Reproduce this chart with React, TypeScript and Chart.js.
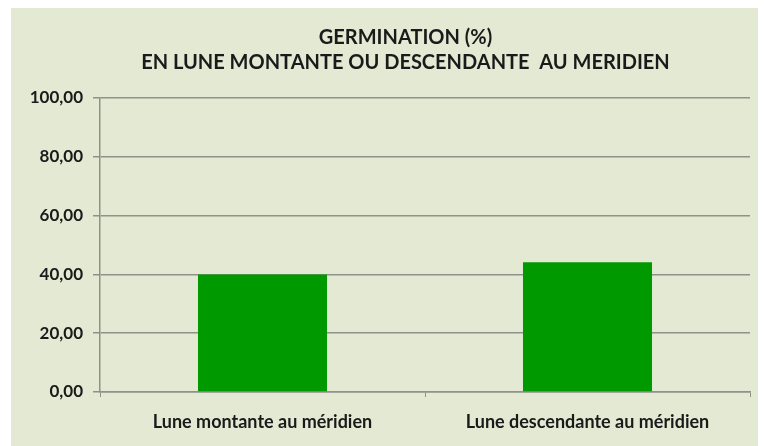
import React, { useEffect, useRef } from "react";
import { Chart, registerables } from "chart.js";

Chart.register(...registerables);

const categories = ["Lune montante au méridien", "Lune descendante au méridien"];
const germination = [40.0, 44.1];
const titleLines = ["GERMINATION (%)", "EN LUNE MONTANTE OU DESCENDANTE  AU MERIDIEN"];
const yMin = 0;
const yMax = 100;
const yStep = 20;

const FONT = "Lato, 'Open Sans', sans-serif";

const panelPlugin = {
  id: "panelBg",
  afterLayout(chart: any) {
    // the original title is centred slightly right of the full canvas width
    const t = chart.titleBlock;
    if (t) {
      t.left = 61;
    }
  },
  beforeDraw(chart: any) {
    const ctx = chart.ctx;
    ctx.save();
    ctx.fillStyle = "#ffffff";
    ctx.fillRect(0, 0, chart.width, chart.height);
    ctx.fillStyle = "#e4e9d3";
    ctx.fillRect(11, 8, 747, chart.height - 8);
    ctx.restore();
  },
};

export default function App() {
  const ref = useRef<HTMLCanvasElement | null>(null);
  useEffect(() => {
    document.body.style.margin = "0";
    const canvas = ref.current;
    if (!canvas) return;
    const chart = new Chart(canvas, {
      type: "bar",
      data: {
        labels: categories,
        datasets: [
          {
            label: "Germination (%)",
            data: germination,
            backgroundColor: "#009a00",
            borderWidth: 0,
            categoryPercentage: 1,
            barPercentage: 0.397,
          },
        ],
      },
      plugins: [panelPlugin],
      options: {
        animation: false,
        responsive: false,
        maintainAspectRatio: false,
        layout: { padding: { left: 11, right: 16, top: 0, bottom: 0 } },
        plugins: {
          legend: { display: false },
          tooltip: { enabled: false },
          title: {
            display: true,
            text: titleLines,
            color: "#1a1a1a",
            font: { family: FONT, size: 20, weight: "bold", lineHeight: 1.25 },
            padding: { top: 25.5, bottom: 22.5 },
          },
        },
        scales: {
          x: {
            grid: {
              display: true,
              drawOnChartArea: false,
              drawTicks: true,
              tickLength: 5,
              color: "#8e9288",
              offset: true,
            },
            border: { display: true, color: "#8e9288", width: 1.5 },
            ticks: {
              color: "#1a1a1a",
              font: { family: FONT, size: 18, weight: "bold" },
              padding: 14,
              maxRotation: 0,
            },
            afterFit(scale: any) {
              scale.height = 54;
            },
          },
          y: {
            min: yMin,
            max: yMax,
            ticks: {
              stepSize: yStep,
              color: "#1a1a1a",
              font: { family: FONT, size: 17, weight: "bold" },
              padding: 10,
              callback: (v: any) => Number(v).toFixed(2).replace(".", ","),
            },
            grid: { color: "#8e9288", lineWidth: 1.5, tickLength: 7 },
            border: { display: true, color: "#8e9288", width: 1.5 },
            afterFit(scale: any) {
              scale.width = 89;
            },
          },
        },
      },
    });
    return () => chart.destroy();
  }, []);
  return (
    <div style={{ width: 766, height: 446 }}>
      <canvas ref={ref} width={766} height={446} style={{ display: "block" }} />
    </div>
  );
}
